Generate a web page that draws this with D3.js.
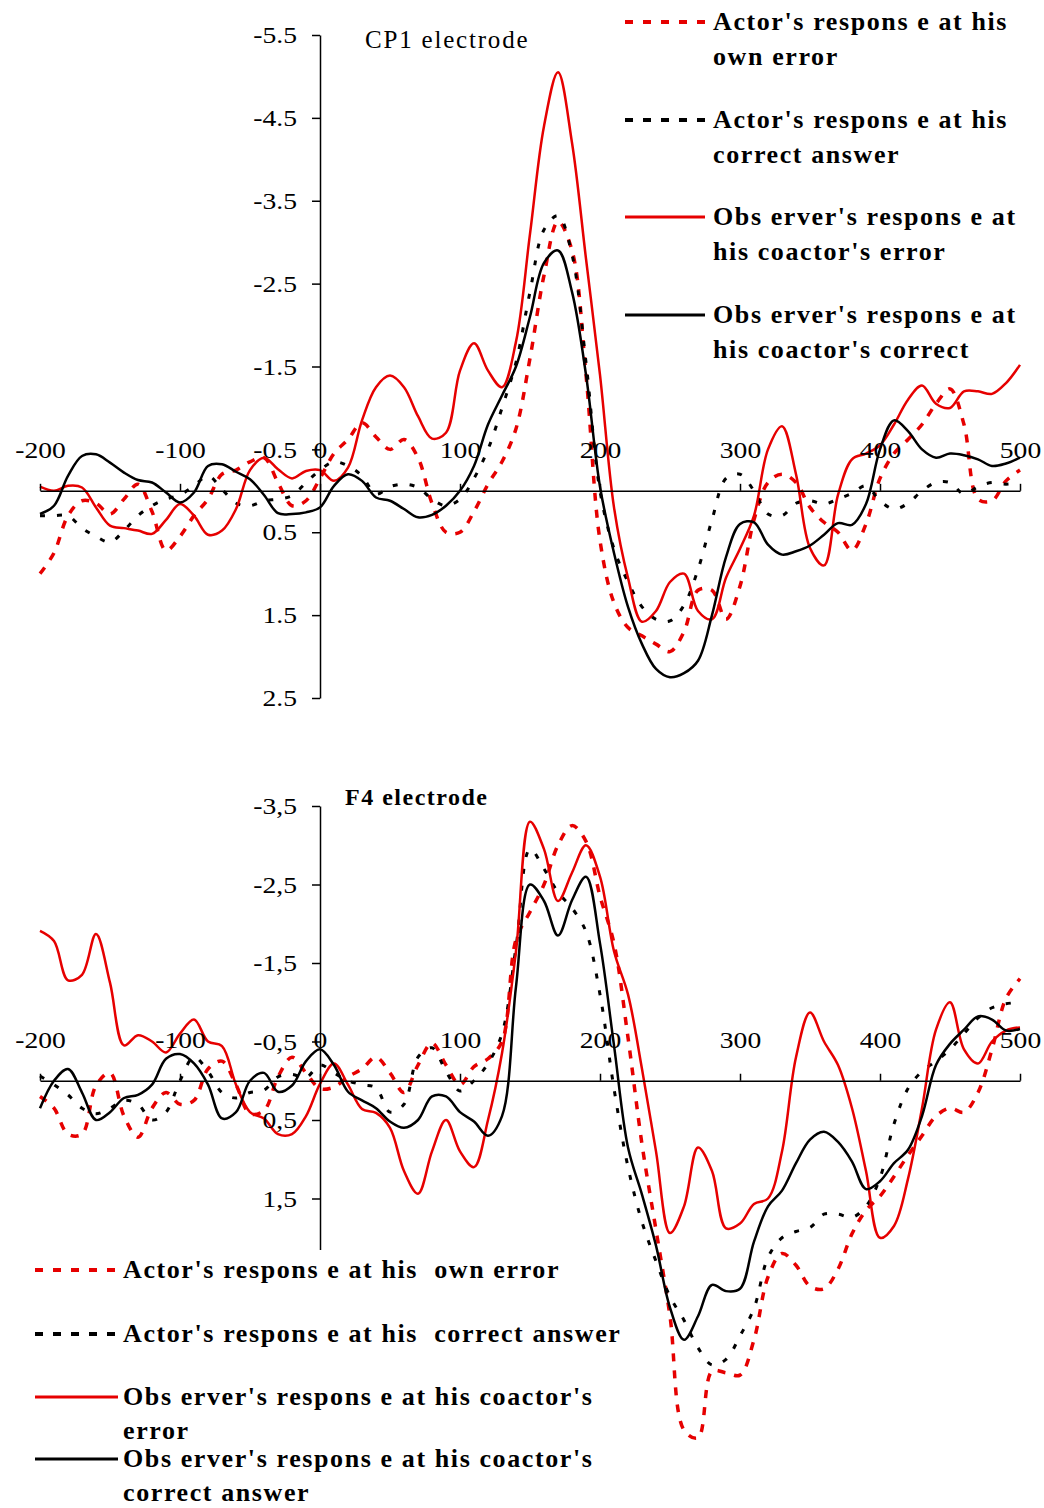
<!DOCTYPE html>
<html>
<head>
<meta charset="utf-8">
<script src="https://cdn.jsdelivr.net/npm/d3@7"></script>
<style>
  body { margin: 0; background: #fff; }
  svg { display: block; }
</style>
</head>
<body>
<div id="chart"></div>
<script>
// sample times (ms) shared by both electrodes
const times = [-200, -190, -180, -170, -160, -150, -140, -130, -120, -110,
  -100, -90, -80, -70, -60, -50, -40, -30, -20, -10,
  0, 10, 20, 30, 40, 50, 60, 70, 80, 90,
  100, 110, 120, 130, 140, 150, 160, 170, 180, 190,
  200, 210, 220, 230, 240, 250, 260, 270, 280, 290,
  300, 310, 320, 330, 340, 350, 360, 370, 380, 390,
  400, 410, 420, 430, 440, 450, 460, 470, 480, 490, 500]

// CP1 electrode (µV)
const cp1ActorError = [1.0, 0.75, 0.3, 0.12, 0.15, 0.28, 0.1, -0.08, 0.25, 0.72,
  0.55, 0.3, 0.1, -0.2, -0.25, -0.35, -0.4, -0.1, 0.18, 0.12,
  -0.15, -0.45, -0.62, -0.82, -0.65, -0.5, -0.62, -0.4, 0.15, 0.5,
  0.5, 0.25, -0.08, -0.35, -0.75, -1.6, -2.6, -3.25, -2.9, -1.4,
  0.6, 1.35, 1.65, 1.75, 1.85, 1.94, 1.7, 1.2, 1.2, 1.55,
  1.15, 0.35, -0.1, -0.2, -0.1, 0.2, 0.38, 0.5, 0.72, 0.4,
  -0.15, -0.45, -0.62, -0.8, -1.05, -1.23, -0.8, 0.1, 0.12, -0.12, -0.25]
const cp1ActorCorrect = [0.3, 0.3, 0.3, 0.45, 0.55, 0.62, 0.48, 0.3, 0.18, 0.1,
  0.05, -0.06, -0.18, -0.02, 0.15, 0.18, 0.12, 0.1, 0.06, -0.1,
  -0.25, -0.35, -0.3, -0.18, 0.04, -0.05, -0.08, -0.04, 0.1, 0.18,
  0.1, -0.15, -0.5, -1.0, -1.55, -2.4, -3.15, -3.32, -2.85, -1.55,
  0.0, 0.7, 1.1, 1.4, 1.55, 1.57, 1.38, 0.95, 0.35, -0.15,
  -0.2, 0.0, 0.28, 0.3, 0.15, 0.12, 0.16, 0.1, 0.03, -0.06,
  0.12, 0.22, 0.15, 0.0, -0.1, -0.1, 0.04, -0.05, -0.1, -0.08, -0.1]
const cp1ObserverError = [-0.05, 0.0, -0.06, -0.04, 0.2, 0.42, 0.45, 0.48, 0.52, 0.35,
  0.16, 0.3, 0.53, 0.48, 0.22, -0.25, -0.4, -0.26, -0.15, -0.24,
  -0.25, -0.12, -0.28, -0.85, -1.25, -1.39, -1.25, -0.9, -0.63, -0.7,
  -1.45, -1.78, -1.45, -1.25, -1.8, -3.1, -4.4, -5.05, -4.2, -2.8,
  -1.4, 0.2, 1.05, 1.58, 1.45, 1.1, 1.0, 1.45, 1.55, 1.05,
  0.7, 0.3, -0.5, -0.78, -0.2, 0.69, 0.9, 0.05, -0.38, -0.45,
  -0.55, -0.8, -1.1, -1.27, -1.05, -1.0, -1.2, -1.2, -1.17, -1.3, -1.52]
const cp1ObserverCorrect = [0.28, 0.18, -0.18, -0.42, -0.44, -0.34, -0.22, -0.13, -0.1, 0.02,
  0.14, 0.02, -0.3, -0.32, -0.23, -0.14, 0.05, 0.27, 0.28, 0.26,
  0.2, -0.06, -0.2, -0.12, 0.08, 0.12, 0.22, 0.32, 0.29, 0.18,
  0.0, -0.3, -0.8, -1.15, -1.5, -2.1, -2.75, -2.9, -2.4, -1.4,
  -0.05, 0.75, 1.4, 1.85, 2.15, 2.25, 2.2, 2.05, 1.5, 0.8,
  0.4, 0.38, 0.65, 0.77, 0.73, 0.66, 0.53, 0.39, 0.41, 0.16,
  -0.5, -0.85, -0.72, -0.5, -0.4, -0.45, -0.43, -0.38, -0.3, -0.33, -0.4]

// F4 electrode (µV)
const f4ActorError = [0.2, 0.35, 0.68, 0.68, 0.06, -0.1, 0.45, 0.72, 0.35, 0.15,
  0.3, 0.25, -0.15, -0.25, 0.05, 0.42, 0.38, -0.05, -0.3, -0.1,
  0.1, 0.08, -0.05, -0.15, -0.3, -0.1, 0.15, -0.2, -0.48, -0.2,
  0.05, -0.18, -0.28, -0.5, -1.8, -2.15, -2.5, -3.0, -3.25, -3.05,
  -2.35, -1.75, -0.55, 0.81, 1.9, 3.0, 4.45, 4.55, 3.7, 3.72,
  3.75, 3.3, 2.5, 2.2, 2.35, 2.62, 2.65, 2.4, 1.95, 1.65,
  1.47, 1.22, 0.95, 0.7, 0.45, 0.35, 0.4, 0.15, -0.4, -1.05, -1.3]
const f4ActorCorrect = [-0.06, 0.05, 0.18, 0.35, 0.42, 0.35, 0.25, 0.3, 0.5, 0.4,
  0.0, -0.3, -0.12, 0.15, 0.22, 0.15, 0.12, -0.05, -0.08, -0.04,
  -0.2, -0.1, 0.0, 0.05, 0.09, 0.4, 0.3, -0.3, -0.42, -0.12,
  0.13, 0.0, -0.22, -0.6, -1.7, -2.95, -2.7, -2.4, -2.2, -1.9,
  -1.1, 0.1, 1.1, 1.8, 2.3, 2.75, 3.05, 3.4, 3.62, 3.55,
  3.25, 2.9, 2.25, 2.0, 1.92, 1.87, 1.7, 1.7, 1.74, 1.6,
  1.24, 0.55, 0.1, -0.12, -0.25, -0.4, -0.6, -0.8, -0.93, -0.98, -1.0]
const f4ObserverError = [-1.91, -1.78, -1.28, -1.35, -1.87, -1.25, -0.45, -0.58, -0.5, -0.36,
  -0.6, -0.78, -0.5, -0.44, 0.05, 0.4, 0.48, 0.68, 0.68, 0.45,
  0.04, -0.22, 0.05, 0.36, 0.41, 0.6, 1.15, 1.44, 0.9, 0.5,
  0.9, 1.1, 0.5, -0.35, -1.65, -3.3, -2.95, -2.29, -2.65, -3.0,
  -2.6, -1.65, -1.1, -0.15, 0.9, 1.94, 1.6, 0.85, 1.15, 1.88,
  1.82, 1.57, 1.5, 0.9, -0.3, -0.87, -0.5, -0.2, 0.35, 1.15,
  2.0, 1.85, 1.25, 0.35, -0.65, -1.0, -0.4, -0.22, -0.5, -0.64, -0.68]
const f4ObserverCorrect = [0.35, 0.0, -0.15, 0.15, 0.5, 0.4, 0.22, 0.18, 0.05, -0.28,
  -0.34, -0.22, 0.05, 0.48, 0.4, 0.0, -0.1, 0.14, 0.06, -0.25,
  -0.4, -0.2, 0.14, 0.25, 0.35, 0.52, 0.6, 0.5, 0.2, 0.2,
  0.4, 0.52, 0.7, 0.45, -1.2, -2.5, -2.29, -1.85, -2.3, -2.6,
  -1.75, -0.45, 0.85, 1.45, 2.1, 2.89, 3.3, 3.0, 2.6, 2.68,
  2.65, 2.05, 1.6, 1.4, 1.05, 0.75, 0.65, 0.78, 1.03, 1.38,
  1.28, 1.05, 0.88, 0.45, -0.2, -0.47, -0.65, -0.82, -0.78, -0.64, -0.66]

const xTicks = [-200, -100, 0, 100, 200, 300, 400, 500]
const cp1YTicks = [-5.5, -4.5, -3.5, -2.5, -1.5, -0.5, 0.5, 1.5, 2.5]
const f4YTicks = [-3.5, -2.5, -1.5, -0.5, 0.5, 1.5]

const RED = "#e60000"
const FONT = "'Liberation Serif', 'Times New Roman', serif"
const STRETCH = 1.15

const STYLES = [
  { color: RED, width: 3.5, dash: "8,9" },
  { color: "#000", width: 3, dash: "5,12" },
  { color: RED, width: 2.5, dash: null },
  { color: "#000", width: 2.5, dash: null }
]

const svg = d3.select("#chart")
              .append("svg")
              .attr("width", 1044)
              .attr("height", 1508)
              .style("background", "#fff")

const x = d3.scaleLinear()
            .domain([-200, 500])
            .range([40, 1020])

// stretch tick text horizontally around its anchor
function stretch(sel) {
  sel.each(function () {
    const tx = +this.getAttribute("x") || 0
    d3.select(this).attr("transform", `translate(${tx * (1 - STRETCH)},0) scale(${STRETCH},1)`)
  })
}

function drawPanel(opts) {
  const g = svg.append("g")
  const y = opts.y

  // lines
  const line = d3.line()
                 .x((d, i) => x(times[i]))
                 .y(d => y(d))
                 .curve(d3.curveCatmullRom.alpha(0.5))

  opts.series.forEach((values, i) => {
    const s = STYLES[i]
    g.append("path")
     .datum(values)
     .attr("fill", "none")
     .attr("stroke", s.color)
     .attr("stroke-width", s.width)
     .attr("stroke-dasharray", s.dash)
     .attr("stroke-linejoin", "round")
     .attr("d", line)
  })

  // x axis along zero, ticks upward, labels above
  const xAxis = g.append("g")
                 .attr("transform", `translate(0, ${y(0)})`)
                 .call(d3.axisTop(x)
                         .tickValues(xTicks)
                         .tickSize(7)
                         .tickSizeOuter(0)
                         .tickPadding(26)
                         .tickFormat(d => String(d)))
  // y axis at time zero
  const yAxis = g.append("g")
                 .attr("transform", `translate(${x(0)}, 0)`)
                 .call(d3.axisLeft(y)
                         .tickValues(opts.yTicks)
                         .tickSize(8)
                         .tickSizeOuter(0)
                         .tickPadding(15)
                         .tickFormat(opts.yFormat))

  ;[xAxis, yAxis].forEach(a => {
    a.selectAll("path, line").attr("stroke", "#000").attr("stroke-width", 1.5)
    a.selectAll("text")
     .attr("fill", "#000")
     .style("font-family", FONT)
     .style("font-size", "24px")
     .call(stretch)
  })

  g.append("text")
   .attr("x", opts.titleX)
   .attr("y", opts.titleY)
   .style("font-family", FONT)
   .style("font-size", opts.titleBold ? "24px" : "25px")
   .style("font-weight", opts.titleBold ? "bold" : "normal")
   .style("letter-spacing", opts.titleBold ? "1.5px" : "1.8px")
   .text(opts.title)
}

function drawLegend(opts) {
  const g = svg.append("g")
  opts.labels.forEach((lines, i) => {
    const s = STYLES[i]
    const cy = opts.rows[i]
    g.append("line")
     .attr("x1", opts.x1).attr("x2", opts.x2)
     .attr("y1", cy).attr("y2", cy)
     .attr("stroke", s.color)
     .attr("stroke-width", s.dash ? 4 : 3)
     .attr("stroke-dasharray", s.dash ? "8,10" : null)
    lines.forEach((txt, j) => {
      g.append("text")
       .attr("x", opts.textX)
       .attr("y", cy + 8 + j * opts.lineGap)
       .style("font-family", FONT)
       .style("font-size", "26px")
       .style("font-weight", "bold")
       .style("letter-spacing", "1.6px")
       .style("white-space", "pre")
       .text(txt)
    })
  })
}

drawPanel({
  y: d3.scaleLinear().domain([-5.5, 2.5]).range([35, 698]),
  yTicks: cp1YTicks,
  yFormat: d => d.toFixed(1),
  series: [cp1ActorError, cp1ActorCorrect, cp1ObserverError, cp1ObserverCorrect],
  title: "CP1 electrode",
  titleX: 365, titleY: 48, titleBold: false
})

drawPanel({
  y: d3.scaleLinear().domain([-3.5, 2.15]).range([806, 806 + 5.65 * 78.5]),
  yTicks: f4YTicks,
  yFormat: d => d.toFixed(1).replace(".", ","),
  series: [f4ActorError, f4ActorCorrect, f4ObserverError, f4ObserverCorrect],
  title: "F4 electrode",
  titleX: 345, titleY: 805, titleBold: true
})

drawLegend({
  x1: 625, x2: 705, textX: 713,
  rows: [22, 120, 217, 315],
  lineGap: 35,
  labels: [
    ["Actor's respons e at his", "own error"],
    ["Actor's respons e at his", "correct answer"],
    ["Obs erver's respons e at", "his coactor's error"],
    ["Obs erver's respons e at", "his coactor's correct"]
  ]
})

drawLegend({
  x1: 35, x2: 118, textX: 123,
  rows: [1270, 1334, 1397, 1459],
  lineGap: 34,
  labels: [
    ["Actor's respons e at his  own error"],
    ["Actor's respons e at his  correct answer"],
    ["Obs erver's respons e at his coactor's", "error"],
    ["Obs erver's respons e at his coactor's", "correct answer"]
  ]
})
</script>
</body>
</html>
